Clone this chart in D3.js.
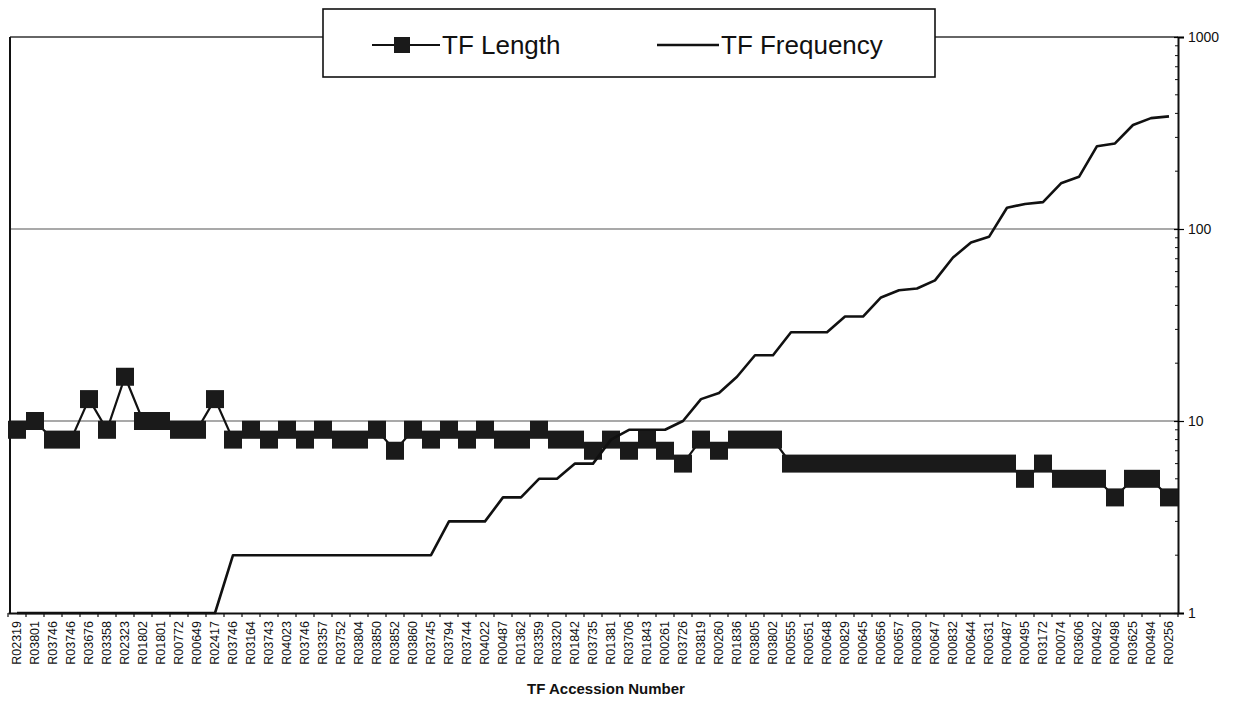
<!DOCTYPE html>
<html>
<head>
<meta charset="utf-8">
<script src="https://cdn.jsdelivr.net/npm/d3@7"></script>
<style>
  body { margin: 0; background: #fff; }
  svg { font-family: "Liberation Sans", Arial, sans-serif; }
</style>
</head>
<body>
<svg id="chart" width="1242" height="704"></svg>
<script>
// accession numbers along the x axis (some repeat, so the scale uses the index)
var accessions = ['R02319','R03801','R03746','R03746','R03676','R03358','R02323','R01802','R01801','R00772',
  'R00649','R02417','R03746','R03164','R03743','R04023','R03746','R03357','R03752','R03804',
  'R03850','R03852','R03860','R03745','R03794','R03744','R04022','R00487','R01362','R03359',
  'R03320','R01842','R03735','R01381','R03706','R01843','R00261','R03726','R03819','R00260',
  'R01836','R03805','R03802','R00555','R00651','R00648','R00829','R00645','R00656','R00657',
  'R00830','R00647','R00832','R00644','R00631','R00487','R00495','R03172','R00074','R03606',
  'R00492','R00498','R03625','R00494','R00256'];

var tfLength = [9,10,8,8,13,9,17,10,10,9,
  9,13,8,9,8,9,8,9,8,8,
  9,7,9,8,9,8,9,8,8,9,
  8,8,7,8,7,8,7,6,8,7,
  8,8,8,6,6,6,6,6,6,6,
  6,6,6,6,6,6,5,6,5,5,
  5,4,5,5,4];

var tfFrequency = [1,1,1,1,1,1,1,1,1,1,
  1,1,2,2,2,2,2,2,2,2,
  2,2,2,2,3,3,3,4,4,5,
  5,6,6,8,9,9,9,10,13,14,
  17,22,22,29,29,29,35,35,44,48,
  49,54,71,85,91,129,135,138,173,187,
  270,279,348,378,386];

var yTicks = [1, 10, 100, 1000];

var svg = d3.select('#chart');
var plotLeft = 8, plotRight = 1178, plotTop = 37, plotBottom = 613;

var x = d3.scaleBand()
    .domain(d3.range(accessions.length))
    .range([plotLeft, plotRight]);

var y = d3.scaleLog()
    .domain([1, 1000])
    .range([plotBottom, plotTop]);

// gridlines
svg.append('g').selectAll('line')
    .data([10, 100])
    .enter().append('line')
    .attr('x1', plotLeft + 2).attr('x2', plotRight)
    .attr('y1', function(d){ return y(d); })
    .attr('y2', function(d){ return y(d); })
    .attr('stroke', '#555').attr('stroke-width', 1.2);

// plot frame: top and left
svg.append('line').attr('x1', plotLeft + 2).attr('x2', plotRight).attr('y1', y(1000)).attr('y2', y(1000))
    .attr('stroke', '#333').attr('stroke-width', 1.4);
svg.append('line').attr('x1', plotLeft + 2).attr('x2', plotLeft + 2).attr('y1', y(1000)).attr('y2', plotBottom)
    .attr('stroke', '#111').attr('stroke-width', 2);

// right log axis
var yAxis = d3.axisRight(y)
    .tickValues(yTicks)
    .tickFormat(d3.format('d'))
    .tickSize(6)
    .tickPadding(4);
var yG = svg.append('g')
    .attr('transform', 'translate(' + plotRight + ',0)')
    .call(yAxis);
yG.select('.domain').attr('stroke', '#111').attr('stroke-width', 2);
yG.selectAll('.tick line').attr('x1', -4).attr('stroke-width', 1.2);
yG.selectAll('.tick text').attr('font-size', 14).attr('fill', '#111');

// minor log ticks
var minor = [];
[1, 10, 100].forEach(function(base){
  for (var k = 2; k < 10; k++) minor.push(base * k);
});
yG.selectAll('.minor')
    .data(minor)
    .enter().append('line')
    .attr('class', 'minor')
    .attr('x1', -3).attr('x2', 0)
    .attr('y1', function(d){ return y(d); })
    .attr('y2', function(d){ return y(d); })
    .attr('stroke', '#111');

// bottom category axis
var xAxis = d3.axisBottom(x)
    .tickFormat(function(i){ return accessions[i]; })
    .tickSize(0)
    .tickPadding(0);
var xG = svg.append('g')
    .attr('transform', 'translate(0,' + plotBottom + ')')
    .call(xAxis);
xG.select('.domain').attr('stroke', '#111').attr('stroke-width', 2.2);
xG.selectAll('.tick text')
    .attr('font-size', 12.5)
    .attr('fill', '#111')
    .attr('text-anchor', 'end')
    .attr('x', 0).attr('y', 0)
    .attr('dy', '0.35em')
    .attr('transform', 'translate(0,8) rotate(-90)');

// category boundary ticks
xG.selectAll('.sep')
    .data(d3.range(accessions.length + 1))
    .enter().append('line')
    .attr('class', 'sep')
    .attr('x1', function(i){ return plotLeft + i * x.step(); })
    .attr('x2', function(i){ return plotLeft + i * x.step(); })
    .attr('y1', 0).attr('y2', 4)
    .attr('stroke', '#111').attr('stroke-width', 1.2);

svg.append('text')
    .attr('x', 606).attr('y', 694)
    .attr('text-anchor', 'middle')
    .attr('font-size', 15)
    .attr('font-weight', 'bold')
    .attr('fill', '#111')
    .text('TF Accession Number');

var cx = function(d, i){ return x(i) + x.bandwidth() / 2; };

// TF Length
svg.append('path')
    .datum(tfLength)
    .attr('fill', 'none')
    .attr('stroke', '#111')
    .attr('stroke-width', 2.2)
    .attr('d', d3.line().x(cx).y(function(d){ return y(d); }));

var sq = 18;
svg.append('g').selectAll('rect')
    .data(tfLength)
    .enter().append('rect')
    .attr('x', function(d, i){ return cx(d, i) - sq / 2; })
    .attr('y', function(d){ return y(d) - sq / 2; })
    .attr('width', sq).attr('height', sq)
    .attr('fill', '#1a1a1a');

// TF Frequency
svg.append('path')
    .datum(tfFrequency)
    .attr('fill', 'none')
    .attr('stroke', '#111')
    .attr('stroke-width', 2.6)
    .attr('stroke-linejoin', 'round')
    .attr('d', d3.line().x(cx).y(function(d){ return y(d); }));

// legend
var lg = svg.append('g');
lg.append('rect')
    .attr('x', 323).attr('y', 9).attr('width', 612).attr('height', 68)
    .attr('fill', '#fff').attr('stroke', '#111').attr('stroke-width', 1.6);
lg.append('line').attr('x1', 372).attr('x2', 440).attr('y1', 45).attr('y2', 45)
    .attr('stroke', '#111').attr('stroke-width', 2);
lg.append('rect').attr('x', 394).attr('y', 37).attr('width', 16).attr('height', 16).attr('fill', '#1a1a1a');
lg.append('text').attr('x', 442).attr('y', 54).attr('font-size', 26).attr('fill', '#111').text('TF Length');
lg.append('line').attr('x1', 657).attr('x2', 719).attr('y1', 45).attr('y2', 45)
    .attr('stroke', '#111').attr('stroke-width', 2.4);
lg.append('text').attr('x', 721).attr('y', 54).attr('font-size', 26).attr('fill', '#111').text('TF Frequency');
</script>
</body>
</html>
